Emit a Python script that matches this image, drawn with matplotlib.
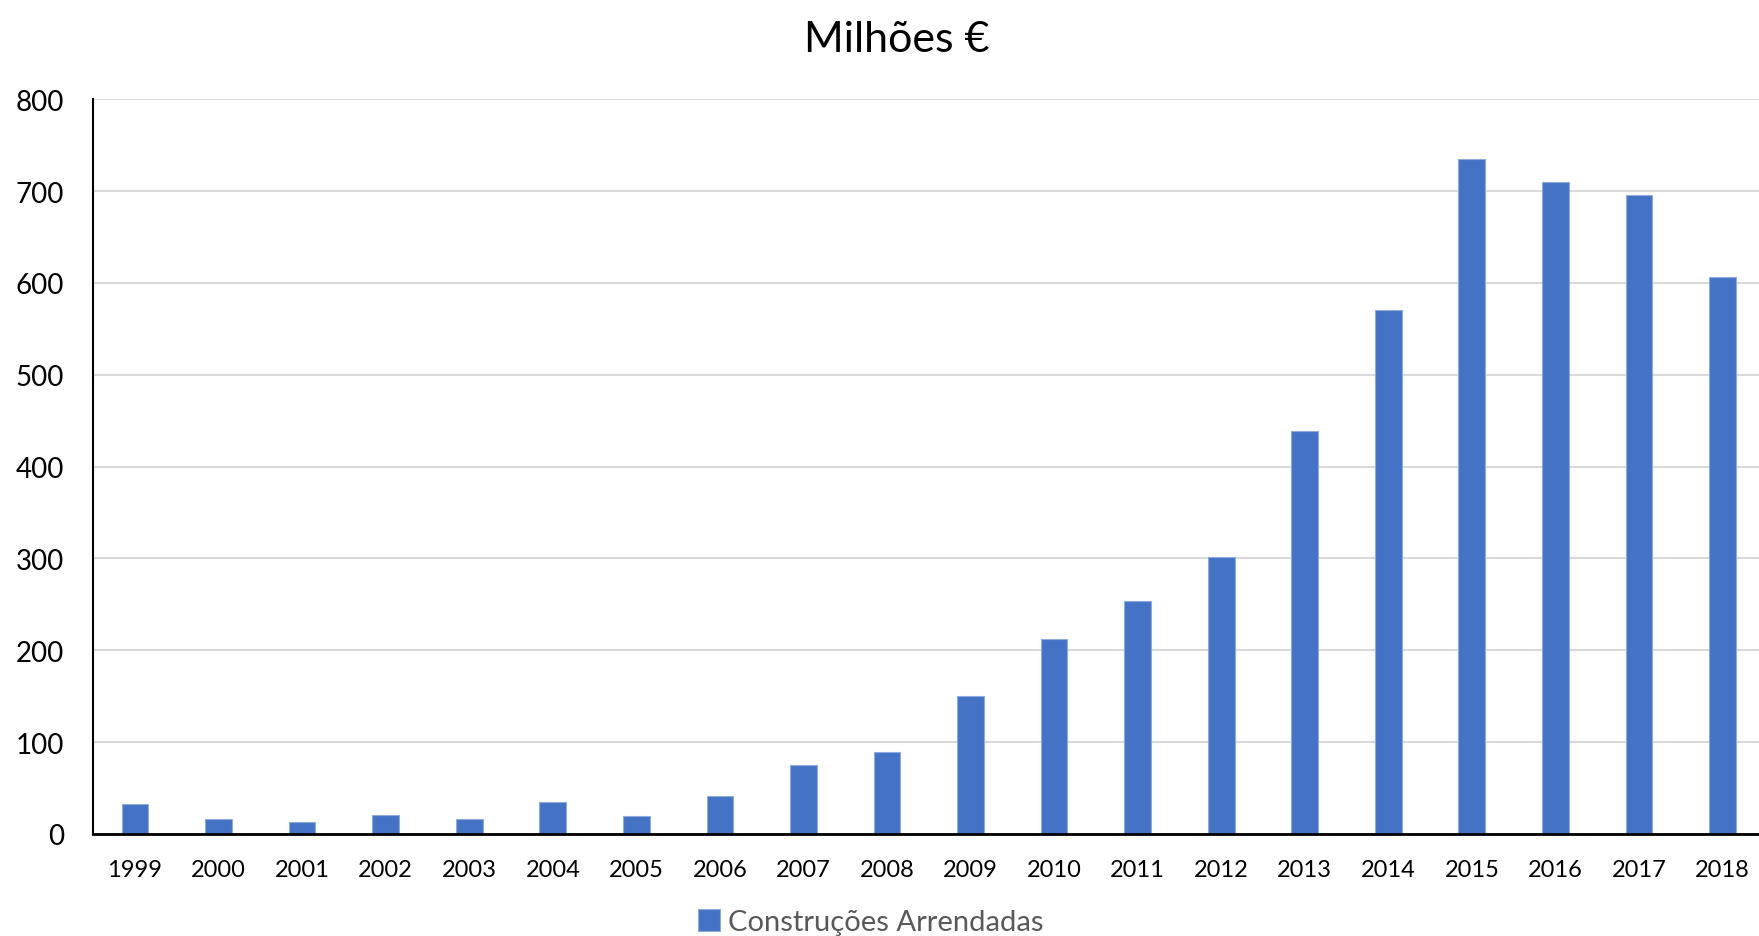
import matplotlib
matplotlib.use("Agg")
import matplotlib.pyplot as plt
import numpy as np

years = ["1999", "2000", "2001", "2002", "2003", "2004", "2005", "2006", "2007", "2008",
         "2009", "2010", "2011", "2012", "2013", "2014", "2015", "2016", "2017", "2018"]
values = [33, 16, 13, 21, 16, 35, 19.5, 41.5, 75.5, 89,
          150, 212, 254, 301, 439, 571, 735, 710, 696, 606]
yticks = [0, 100, 200, 300, 400, 500, 600, 700, 800]
series_name = "Construções Arrendadas"
title = "Milhões €"

font = ["Lato", "DejaVu Sans"]
plt.rcParams['font.family'] = font

fig = plt.figure(figsize=(17.59, 9.37), dpi=100)
ax = fig.add_axes([0.053, 0.109, 0.950, 0.784])

x = np.arange(len(years))
ax.bar(x, values, width=0.32, color="#4472C4", edgecolor="#8FAADC", linewidth=0.8,
       label=series_name, zorder=3)

ax.set_xlim(-0.5, len(years) - 0.5)
ax.set_ylim(0, 800)
ax.set_yticks(yticks)
ax.set_xticks(x)
ax.set_xticklabels(years)
ax.grid(axis="y", color="#D9D9D9", linewidth=1.5, zorder=0)
ax.set_axisbelow(True)
for s in ["top", "right"]:
    ax.spines[s].set_visible(False)
ax.spines["left"].set_linewidth(1.5)
ax.spines["bottom"].set_linewidth(2.0)
ax.spines["bottom"].set_zorder(4)
ax.tick_params(axis="both", length=0)
ax.tick_params(axis="y", labelsize=20, pad=21)
ax.tick_params(axis="x", labelsize=17, pad=18)

fig.suptitle(title, fontsize=31, y=0.978, va="top", x=0.51)

leg = fig.legend(loc="lower center", bbox_to_anchor=(0.495, -0.027), frameon=False,
                 fontsize=21, handlelength=0.75, handleheight=0.75, handletextpad=0.3)
for t in leg.get_texts():
    t.set_color("#595959")

fig.savefig("out.png", dpi=100)
